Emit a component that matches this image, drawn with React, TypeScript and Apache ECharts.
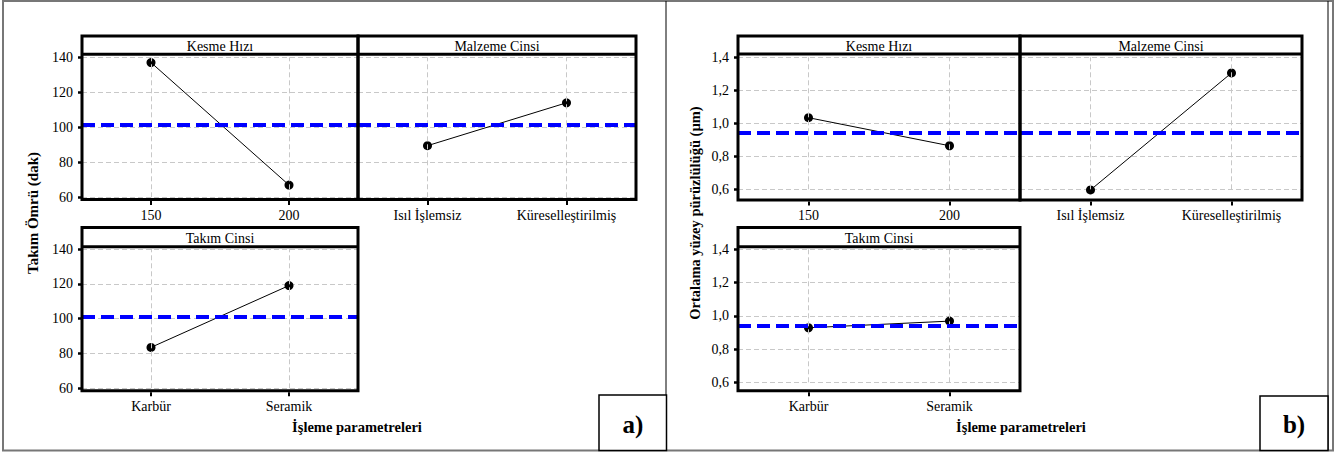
import React, { useEffect, useRef } from "react";
import * as echarts from "echarts";

// ---- data ----
const speedCats = ["150", "200"];
const materialCats = ["Isıl İşlemsiz", "Küreselleştirilmiş"];
const toolCats = ["Karbür", "Seramik"];

const lifeSpeed = [137, 67];
const lifeMaterial = [89.5, 114];
const lifeTool = [83.5, 119];
const lifeMean = 101.3;

const roughSpeed = [1.034, 0.864];
const roughMaterial = [0.596, 1.305];
const roughTool = [0.928, 0.968];
const roughMean = 0.945;

const lifeAxis = { min: 60, max: 140, interval: 20 };
const roughAxis = { min: 0.6, max: 1.4, interval: 0.2 };

const stripTitles = ["Kesme Hızı", "Malzeme Cinsi", "Takım Cinsi"];
const yTitleA = "Takım Ömrü (dak)";
const yTitleB = "Ortalama yüzey pürüzlülüğü (µm)";
const xTitle = "İşleme parametreleri";

const FONT = "Liberation Serif";

export default function App() {
  const ref = useRef<HTMLDivElement>(null);
  useEffect(() => {
    if (!ref.current) return;
    const chart = echarts.init(ref.current, undefined, { renderer: "svg" });

    type P = {
      x: number; w: number; stripTop: number; stripBot: number; frameBot: number;
      gridTop: number; gridH: number; cats: string[]; vals: number[]; mean: number;
      ax: { min: number; max: number; interval: number }; showY: boolean; title: string;
      fmt: (v: number) => string;
    };
    const fmtA = (v: number) => String(Math.round(v));
    const fmtB = (v: number) => v.toFixed(1).replace(".", ",");
    const panels: P[] = [
      { x: 82, w: 276, stripTop: 36, stripBot: 54.3, frameBot: 199.5, gridTop: 57.3, gridH: 140, cats: speedCats, vals: lifeSpeed, mean: lifeMean, ax: lifeAxis, showY: true, title: stripTitles[0], fmt: fmtA },
      { x: 358, w: 278, stripTop: 36, stripBot: 54.3, frameBot: 199.5, gridTop: 57.3, gridH: 140, cats: materialCats, vals: lifeMaterial, mean: lifeMean, ax: lifeAxis, showY: false, title: stripTitles[1], fmt: fmtA },
      { x: 82, w: 276, stripTop: 227.5, stripBot: 246.7, frameBot: 390.7, gridTop: 249, gridH: 139.3, cats: toolCats, vals: lifeTool, mean: lifeMean, ax: lifeAxis, showY: true, title: stripTitles[2], fmt: fmtA },
      { x: 738, w: 282, stripTop: 36, stripBot: 54, frameBot: 200, gridTop: 57.3, gridH: 132, cats: speedCats, vals: roughSpeed, mean: roughMean, ax: roughAxis, showY: true, title: stripTitles[0], fmt: fmtB },
      { x: 1020, w: 282, stripTop: 36, stripBot: 54, frameBot: 200, gridTop: 57.3, gridH: 132, cats: materialCats, vals: roughMaterial, mean: roughMean, ax: roughAxis, showY: false, title: stripTitles[1], fmt: fmtB },
      { x: 738, w: 282, stripTop: 227.5, stripBot: 246.7, frameBot: 390.7, gridTop: 249.3, gridH: 133, cats: toolCats, vals: roughTool, mean: roughMean, ax: roughAxis, showY: true, title: stripTitles[2], fmt: fmtB },
    ];

    const grid: any[] = [];
    const xAxis: any[] = [];
    const yAxis: any[] = [];
    const series: any[] = [];
    const graphic: any[] = [];

    const lbl = { fontFamily: FONT, fontSize: 14, color: "#000" };

    panels.forEach((p, i) => {
      grid.push({ left: p.x, top: p.gridTop, width: p.w, height: p.gridH, containLabel: false });
      const gridBot = p.gridTop + p.gridH;
      xAxis.push({
        type: "category", gridIndex: i, data: p.cats, boundaryGap: true,
        offset: p.frameBot - gridBot + 1.5,
        axisLine: { show: false },
        axisTick: { show: true, alignWithLabel: true, length: 4, lineStyle: { color: "#000", width: 2 } },
        axisLabel: { ...lbl, margin: 7, interval: 0 },
        splitLine: { show: false },
      });
      yAxis.push({
        type: "value", gridIndex: i, min: p.ax.min, max: p.ax.max, interval: p.ax.interval,
        axisLine: { show: false },
        axisTick: { show: p.showY, length: 4, lineStyle: { color: "#000", width: 2.5 } },
        axisLabel: { ...lbl, show: p.showY, margin: 9, formatter: p.fmt },
        splitLine: { show: true, lineStyle: { color: "#c8c8c8", width: 1, type: [5, 3] } },
      });
      series.push({
        type: "line", xAxisIndex: i, yAxisIndex: i, data: p.vals,
        symbol: "circle", symbolSize: 9, clip: false,
        itemStyle: { color: "#000" }, lineStyle: { color: "#000", width: 1 }, z: 3,
        markLine: {
          silent: true, symbol: "none", label: { show: false }, z: 4,
          data: [
            ...p.cats.map((_, k) => ({ xAxis: k, lineStyle: { color: "#c8c8c8", width: 1, type: [5, 3] } })),
            { yAxis: p.mean, lineStyle: { color: "#0000ff", width: 4, type: [13, 6] } },
          ],
        },
      });
      graphic.push({
        type: "rect", shape: { x: p.x, y: p.stripTop, width: p.w, height: p.frameBot - p.stripTop },
        style: { fill: "none", stroke: "#000", lineWidth: 3 }, z: 10,
      });
      graphic.push({
        type: "line", shape: { x1: p.x, y1: p.stripBot, x2: p.x + p.w, y2: p.stripBot },
        style: { stroke: "#000", lineWidth: 3 }, z: 10,
      });
      graphic.push({
        type: "text", x: p.x + p.w / 2, y: (p.stripTop + p.stripBot) / 2 + 1,
        style: { text: p.title, fontFamily: FONT, fontSize: 14, fill: "#000", textAlign: "center", textVerticalAlign: "middle" }, z: 10,
      });
    });

    // outer frame and dividers
    graphic.push({ type: "rect", shape: { x: 3, y: 1, width: 1330, height: 449.5 }, style: { fill: "none", stroke: "#777", lineWidth: 2 }, z: 1 });
    graphic.push({ type: "line", shape: { x1: 666, y1: 1, x2: 666, y2: 450 }, style: { stroke: "#000", lineWidth: 1 }, z: 2 });
    graphic.push({ type: "line", shape: { x1: 1328, y1: 1, x2: 1328, y2: 450 }, style: { stroke: "#000", lineWidth: 1 }, z: 2 });

    // axis titles
    const bold = { fontFamily: FONT, fontSize: 14.5, fontWeight: "bold", fill: "#000", textAlign: "center", textVerticalAlign: "middle" };
    graphic.push({ type: "text", x: 33, y: 213, rotation: Math.PI / 2, style: { ...bold, fontSize: 15, text: yTitleA } });
    graphic.push({ type: "text", x: 695, y: 213, rotation: Math.PI / 2, style: { ...bold, text: yTitleB } });
    graphic.push({ type: "text", x: 357, y: 427, style: { ...bold, text: xTitle } });
    graphic.push({ type: "text", x: 1021, y: 427, style: { ...bold, text: xTitle } });

    // a) b) boxes
    graphic.push({ type: "rect", shape: { x: 599, y: 395, width: 67.5, height: 55.5 }, style: { fill: "#fff", stroke: "#000", lineWidth: 1.5 }, z: 5 });
    graphic.push({ type: "text", x: 633, y: 424, style: { ...bold, fontSize: 25, text: "a)" }, z: 6 });
    graphic.push({ type: "rect", shape: { x: 1260, y: 396, width: 68, height: 54.5 }, style: { fill: "#fff", stroke: "#000", lineWidth: 1.5 }, z: 5 });
    graphic.push({ type: "text", x: 1294, y: 424, style: { ...bold, fontSize: 25, text: "b)" }, z: 6 });

    chart.setOption({
      animation: false,
      backgroundColor: "#fff",
      textStyle: { fontFamily: FONT },
      grid, xAxis, yAxis, series, graphic,
    });
    return () => chart.dispose();
  }, []);

  return (
    <div
      ref={ref}
      style={{ position: "absolute", left: 0, top: 0, width: 1336, height: 454, background: "#fff" }}
    />
  );
}
